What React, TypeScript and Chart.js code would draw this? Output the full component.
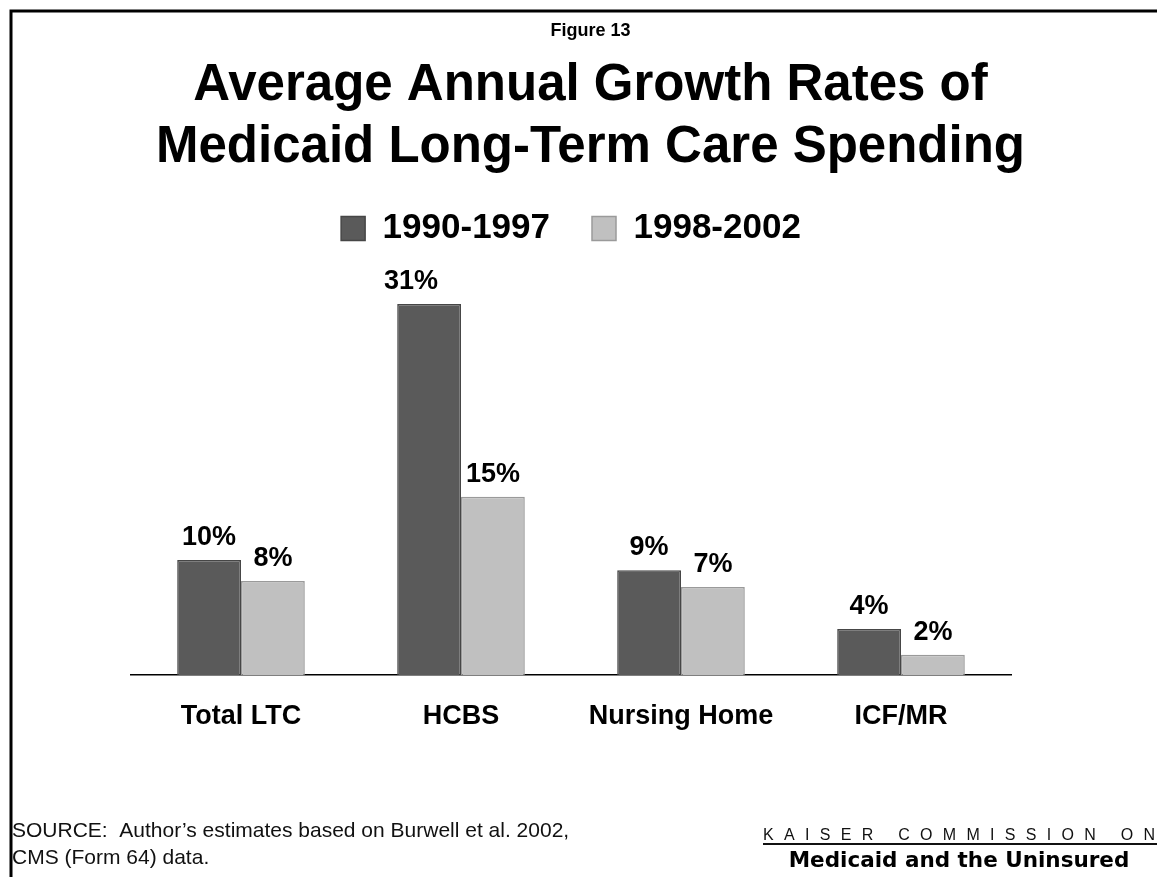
import React, { useEffect, useRef } from 'react';
import { Chart, registerables } from 'chart.js';

Chart.register(...registerables);

// ---- data ----
const categories = ['Total LTC', 'HCBS', 'Nursing Home', 'ICF/MR'];
const series1Label = '1990-1997';
const series2Label = '1998-2002';
const series1Values = [9.6, 31, 8.75, 3.85];
const series2Values = [7.85, 14.9, 7.35, 1.7];
const figureLabel = 'Figure 13';
const titleLines = ['Average Annual Growth Rates of', 'Medicaid Long-Term Care Spending'];
const sourceLines = ['SOURCE:  Author\u2019s estimates based on Burwell et al. 2002,', 'CMS (Form 64) data.'];
const orgLine1 = 'KAISER COMMISSION ON';
const orgLine2 = 'Medicaid and the Uninsured';

const FONT = '"Liberation Sans", Arial, Helvetica, sans-serif';
const DARK = '#5a5a5a';
const LIGHT = '#c0c0c0';

export default function App() {
  const ref = useRef<HTMLCanvasElement>(null);

  useEffect(() => {
    const canvas = ref.current;
    if (!canvas) return;

    const framePlugin = {
      id: 'frame',
      beforeDraw(chart: any) {
        const ctx = chart.ctx;
        ctx.save();
        ctx.fillStyle = '#ffffff';
        ctx.fillRect(0, 0, chart.width, chart.height);
        ctx.strokeStyle = '#000000';
        ctx.lineWidth = 3;
        ctx.strokeRect(11, 11, 1159, 876);
        ctx.restore();
      },
    };

    const valueLabels = {
      id: 'valueLabels',
      afterDatasetsDraw(chart: any, _args: any, opts: any) {
        const ctx = chart.ctx;
        ctx.save();
        ctx.font = `bold 27px ${FONT}`;
        ctx.fillStyle = '#000000';
        ctx.textAlign = 'center';
        ctx.textBaseline = 'alphabetic';
        chart.data.datasets.forEach((ds: any, di: number) => {
          const meta = chart.getDatasetMeta(di);
          meta.data.forEach((bar: any, i: number) => {
            const v = ds.data[i] as number;
            const shift = (opts.shiftX && opts.shiftX[di] && opts.shiftX[di][i]) || 0;
            ctx.fillText(Math.round(v) + '%', bar.x + shift, bar.y - 15);
          });
        });
        ctx.restore();
      },
    };

    const footer = {
      id: 'footer',
      afterDraw(chart: any) {
        const ctx = chart.ctx;
        ctx.save();
        ctx.fillStyle = '#111111';
        ctx.textAlign = 'left';
        ctx.textBaseline = 'alphabetic';
        ctx.font = `21px ${FONT}`;
        ctx.fillText(sourceLines[0], 12, 837);
        ctx.fillText(sourceLines[1], 12, 864);

        ctx.font = `16px ${FONT}`;
        (ctx as any).letterSpacing = '10.3px';
        ctx.fillText(orgLine1, 763, 840);
        (ctx as any).letterSpacing = '0px';
        ctx.strokeStyle = '#111111';
        ctx.lineWidth = 2;
        ctx.beginPath();
        ctx.moveTo(763, 844);
        ctx.lineTo(1165, 844);
        ctx.stroke();

        ctx.font = `bold 21.5px "DejaVu Sans", ${FONT}`;
        ctx.textAlign = 'center';
        ctx.fillStyle = '#000000';
        ctx.fillText(orgLine2, 959, 867);
        ctx.restore();
      },
    };

    const chart = new Chart(canvas, {
      type: 'bar',
      data: {
        labels: categories,
        datasets: [
          {
            label: series1Label,
            data: series1Values,
            backgroundColor: DARK,
            borderColor: '#464646',
            borderWidth: 1.5,
          },
          {
            label: series2Label,
            data: series2Values,
            backgroundColor: LIGHT,
            borderColor: '#9a9a9a',
            borderWidth: 1.5,
          },
        ],
      },
      options: {
        responsive: false,
        animation: false,
        devicePixelRatio: 1,
        layout: { padding: { left: 131, right: 131, top: 0, bottom: 131.6 } },
        datasets: { bar: { categoryPercentage: 0.58, barPercentage: 1 } },
        scales: {
          x: {
            grid: { display: false, drawTicks: false },
            border: { display: true, color: '#000000', width: 1.5 },
            ticks: {
              padding: 25.5,
              color: '#000000',
              font: { family: FONT, size: 27, weight: 'bold' },
            },
          },
          y: {
            position: 'right',
            min: 0,
            max: 35,
            grid: { display: false, drawTicks: false },
            border: { display: false },
            ticks: { display: false },
            afterFit: (s: any) => {
              s.width = 39;
            },
          },
        },
        plugins: {
          title: {
            display: true,
            text: figureLabel,
            color: '#000000',
            font: { family: FONT, size: 18, weight: 'bold', lineHeight: 1.2 },
            padding: { top: 20.2, bottom: 0 },
          },
          subtitle: {
            display: true,
            text: titleLines,
            color: '#000000',
            font: { family: FONT, size: 51, weight: 'bold', lineHeight: '62px' },
            padding: { top: 13.2, bottom: -9.9 },
          },
          legend: {
            display: true,
            fullSize: false,
            labels: {
              boxWidth: 24,
              boxHeight: 24,
              padding: 42,
              color: '#000000',
              font: { family: FONT, size: 35, weight: 'bold' },
            },
          },
          tooltip: { enabled: false },
          valueLabels: { shiftX: [[0, -18, 0, 0], [0, 0, 0, 0]] },
        } as any,
      },
      plugins: [framePlugin, valueLabels, footer],
    });

    return () => {
      chart.destroy();
    };
  }, []);

  return (
    <div
      style={{
        position: 'absolute',
        left: 0,
        top: 0,
        width: 1157,
        height: 877,
        overflow: 'hidden',
        background: '#ffffff',
      }}
    >
      <canvas ref={ref} width={1181} height={890} style={{ display: 'block', width: 1181, height: 890 }} />
    </div>
  );
}
